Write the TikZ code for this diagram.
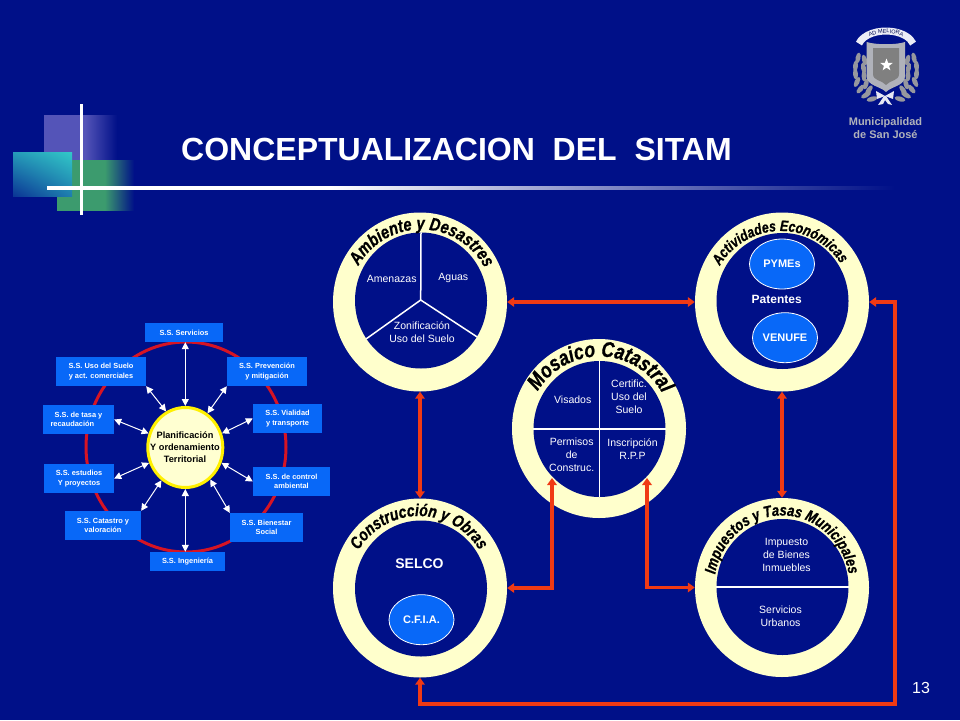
\documentclass[tikz,border=0pt]{standalone}
\usepackage{fontspec}
\setmainfont{Liberation Sans}
\newfontfamily\arcfont[UprightFont=* Bold Italic,FakeBold=0.8,FakeStretch=0.82]{Liberation Sans}
\usetikzlibrary{shapes.geometric,arrows.meta,decorations.text,shadings}
\definecolor{bg}{RGB}{0,16,136}
\definecolor{cream}{RGB}{255,255,204}
\definecolor{bluebox}{RGB}{8,104,248}
\definecolor{redline}{RGB}{240,58,20}
\definecolor{ringred}{RGB}{214,20,36}
\definecolor{logogrey}{RGB}{176,178,186}
\definecolor{purp}{RGB}{84,84,184}
\definecolor{greenb}{RGB}{60,155,110}
\definecolor{tealb}{RGB}{50,200,200}
\definecolor{hubyellow}{RGB}{255,240,0}
\pgfdeclarehorizontalshading{linefade}{100bp}{color(0bp)=(white); color(41.7bp)=(white); color(75bp)=(bg); color(100bp)=(bg)}
\pgfdeclarehorizontalshading{purpfade}{100bp}{color(0bp)=(purp); color(53bp)=(purp); color(75bp)=(bg); color(100bp)=(bg)}
\pgfdeclarehorizontalshading{greenfade}{100bp}{color(0bp)=(greenb); color(56bp)=(greenb); color(75bp)=(bg); color(100bp)=(bg)}
\newcommand{\fs}[2]{\fontsize{#1}{#2}\selectfont}
\newcommand{\arctitle}[8]{\path[decorate,decoration={text along path,text align=center,text={|\arcfont\fs{#7}{#7}|#8}}]
  ({#1+#3*cos(#5)},{#2-#4*sin(#5)}) arc[start angle=#5,end angle=#6,x radius=#3pt,y radius=#4pt];}
\tikzset{
  x=1pt,y=-1pt,
  ringo/.style={ellipse,fill=cream,inner sep=0pt,minimum width=174pt,minimum height=179pt},
  ringi/.style={ellipse,fill=bg,inner sep=0pt,minimum width=132pt,minimum height=136pt},
  divider/.style={white,line width=1.5pt},
  lbl/.style={text=white,inner sep=0pt,align=center,font=\fs{10.5}{13}},
  blbl/.style={text=white,inner sep=0pt,align=center,font=\bfseries\fs{11}{13}},
  oval/.style={ellipse,fill=bluebox,draw=white,line width=0.8pt,inner sep=0pt,minimum width=65pt,minimum height=50pt,text=white,font=\bfseries\fs{11}{13}},
  ssbox/.style={rectangle,fill=bluebox,inner sep=0pt,text=white,align=center,font=\bfseries\fs{7.4}{9.3}},
  redarrow/.style={{Triangle[length=7pt,width=9.5pt]}-{Triangle[length=7pt,width=9.5pt]},redline,line width=3.2pt},
  whitearrow/.style={{Triangle[length=7pt,width=7pt]}-{Triangle[length=7pt,width=7pt]},white,line width=1pt},
  leaf/.style={fill=logogrey!85!black},
}
\newcommand{\ssb}[6]{\node[ssbox,minimum width=#4pt-#2pt,minimum height=#5pt-#3pt] (#1) at ({(#2+#4)/2},{(#3+#5)/2}) {#6};}
\begin{document}
\begin{tikzpicture}
\useasboundingbox (0,0) rectangle (960,720);
\fill[bg] (0,0) rectangle (960,720);

% decoration at top left
\shade[shading=purpfade] (44,115) rectangle (117,160);
\shade[shading=greenfade] (57,160) rectangle (134,210);
\shade[upper right=tealb,upper left=tealb!75!bg,lower right=tealb!60!bg,lower left=bg!80!tealb] (13,152) rectangle (72,196);
\fill[white] (79.7,104) rectangle (82.9,215);
\shade[shading=linefade] (47,186.7) rectangle (895,189.9);

% title
\node[inner sep=0pt,anchor=base west,text=white,font=\bfseries\fs{32}{35}] (title) at (181,160) {CONCEPTUALIZACION\ \ DEL\ \ SITAM};

% logo
\foreach \xx/\yy/\rr in {858/58/-12,855.5/66/-5,855.5/74/5,857/82/-25,860.5/89/-40,866/95/-60,872/99/-75,864.5/60/15,863.5/68/10,864/76/2,866/84/-15,869/90/-35}{
  \fill[leaf,rotate around={\rr:(\xx,\yy)}] (\xx,\yy) ellipse (2.5 and 5.5);
  \fill[leaf,rotate around={-\rr:(1772-\xx,\yy)}] (1772-\xx,\yy) ellipse (2.5 and 5.5);
}
\draw[white!92!bg,line width=7pt] ({886+28*cos(165)},{48-17*sin(165)}) arc[start angle=165,end angle=15,x radius=28pt,y radius=17pt];
\fill[logogrey] (866.5,42) .. controls (876,45) and (896,45) .. (905,42) -- (905,76) .. controls (905,86) and (892,86) .. (886,92) .. controls (880,86) and (867,86) .. (866.5,76) -- cycle;
\fill[black!50] (873,48) -- (899,48) -- (899,74) .. controls (899,81) and (890,80) .. (886,85) .. controls (882,80) and (873,81) .. (873,74) -- cycle;
\node[star,star points=5,star point ratio=2.4,fill=white,minimum size=13pt,inner sep=0pt] (logostar) at (886.5,65) {};
\fill[white!90!bg] (885,96) -- (876,91) -- (877,99) -- cycle;
\fill[white!90!bg] (885,96) -- (894,91) -- (893,99) -- cycle;
\fill[white!90!bg] (884,96) -- (878,105) -- (883,104) -- (885,100) -- (888,104) -- (892,105) -- (886,96) -- cycle;
\path[decorate,decoration={text along path,text align=center,text color=bg!60!black,text={|\fs{5.5}{5.5}|AD MELIORA}}]
  ({886+27*cos(155)},{50-17*sin(155)}) arc[start angle=155,end angle=25,x radius=27pt,y radius=17pt];
\node[inner sep=0pt,align=center,text=logogrey,font=\bfseries\fs{11}{13}] (muni) at (885.5,128) {Municipalidad\\de San José};

% left diagram
\node[ellipse,draw=ringred,line width=3pt,minimum width=200pt,minimum height=210pt,inner sep=0pt] (bigring) at (186,447) {};
\ssb{bserv}{145}{323}{223}{342}{S.S. Servicios}
\ssb{buso}{56}{357}{146}{386}{S.S. Uso del Suelo\\y act. comerciales}
\ssb{bprev}{227}{357}{307}{386}{S.S. Prevención\\y mitigación}
\ssb{btasa}{43}{405}{114}{434}{S.S. de tasa y\\recaudación\phantom{xxx}}
\ssb{bvial}{253}{404}{322}{433}{S.S. Vialidad\\y transporte}
\ssb{bestu}{44}{464}{114}{493}{S.S. estudios\\Y proyectos}
\ssb{bctrl}{253}{467}{330}{496}{S.S. de control\\ambiental}
\ssb{bcata}{65}{511}{141}{540}{S.S. Catastro y\\valoración}
\ssb{bbien}{230}{513}{303}{542}{S.S. Bienestar\\Social}
\ssb{bing}{150}{552}{225}{571}{S.S. Ingeniería}
\node[ellipse,draw=hubyellow,fill=cream!90!white,line width=3pt,minimum width=75pt,minimum height=80pt,inner sep=0pt] (hub) at (185.3,447.5) {};
\node[inner sep=0pt,align=center,text=black,font=\bfseries\fs{9.2}{12}] (hubtext) at (185,447.5) {Planificación\\Y ordenamiento\\Territorial};
\draw[whitearrow] (bserv.south -| hub.north) -- (hub.north);
\draw[whitearrow] (buso.south east) -- (hub.118.6);
\draw[whitearrow] (bprev.south west) -- (hub.57.4);
\draw[whitearrow] (btasa.east) -- (hub.159.4);
\draw[whitearrow] (bvial.west) -- (hub.21.4);
\draw[whitearrow] (bestu.east) -- (hub.203);
\draw[whitearrow] (bctrl.west) -- (hub.-23.6);
\draw[whitearrow] (bcata.north east) -- (hub.234);
\draw[whitearrow] (bbien.north west) -- (hub.-52.4);
\draw[whitearrow] (bing.north -| hub.south) -- (hub.south);

% rings
\node[ringo] (amb) at (420,302) {};
\node[ringi] (ambi) at (421,300.5) {};
\node[ringo] (mos) at (599,428.5) {};
\node[ringi] (mosi) at (599.5,429) {};
\node[ringo] (act) at (782,302) {};
\node[ringi] (acti) at (782.5,301) {};
\node[ringo] (cons) at (420,588) {};
\node[ringi] (consi) at (421,588.5) {};
\node[ringo] (imp) at (782,587.5) {};
\node[ringi] (impi) at (782.5,587) {};

% ring titles
\arctitle{421}{301.5}{72}{72}{165}{13}{18}{Ambiente y Desastres}
\arctitle{599.5}{428.5}{72}{72}{165}{13}{21.5}{Mosaico Catastral}
\arctitle{781}{302}{71}{71}{165}{17}{15}{Actividades Económicas}
\arctitle{419}{588}{71}{72}{165}{15}{17}{Construcción y Obras}
\arctitle{782}{587.5}{68}{72}{172}{8}{15.8}{Impuestos y Tasas Municipales}

% Ambiente contents
\coordinate (ambc) at (420.7,300);
\draw[divider] (ambc) -- (ambi.north);
\draw[divider] (ambc) -- (ambi.215);
\draw[divider] (ambc) -- (ambi.-33);
\node[lbl] (tamen) at (391.7,278.5) {Amenazas};
\node[lbl] (tagua) at (453.3,277.5) {Aguas};
\node[lbl] (tzoni) at (422,332.5) {Zonificación\\Uso del Suelo};

% Mosaico contents
\draw[divider] (mosi.north) -- (mosi.south);
\draw[divider] (mosi.west) -- (mosi.east);
\node[lbl] (tvisa) at (572.7,400) {Visados};
\node[lbl] (tcert) at (629,397) {Certific.\\Uso del\\Suelo};
\node[lbl] (tperm) at (571.7,454.5) {Permisos\\de\\Construc.};
\node[lbl] (tinsc) at (632.5,449.5) {Inscripción\\R.P.P};

% Actividades contents
\node[oval] (pymes) at (782,264) {PYMEs};
\node[oval] (venufe) at (785,337.7) {VENUFE};
\node[blbl,font=\bfseries\fs{12}{13}] (tpat) at (776.7,299.5) {Patentes};

% Construccion contents
\node[blbl,font=\bfseries\fs{14}{16}] (tselco) at (419.5,564) {SELCO};
\node[oval] (cfia) at (421.5,619.7) {C.F.I.A.};

% Impuestos contents
\draw[divider] (impi.west) -- (impi.east);
\node[lbl] (timpu) at (786.5,554.5) {Impuesto\\de Bienes\\Inmuebles};
\node[lbl] (tserv) at (780.5,616) {Servicios\\Urbanos};

% connectors
\coordinate (mosL) at (552,478);
\coordinate (mosR) at (647,478);
\coordinate (elbL) at (552,588);
\coordinate (elbR) at (647,587.5);
\coordinate (cA) at (895,302);
\coordinate (cB) at (895,704);
\coordinate (cC) at (420,704);
\draw[redarrow] (amb.east) -- (act.west);
\draw[redarrow] (amb.south) -- (cons.north);
\draw[redarrow] (act.south) -- (imp.north);
\draw[redarrow] (cons.east) -- (elbL) -- (mosL);
\draw[redarrow] (imp.west) -- (elbR) -- (mosR);
\draw[redarrow] (act.east) -- (cA) -- (cB) -- (cC) -- (cons.south);

\node[text=white,inner sep=0pt,font=\fs{16}{18}] (pageno) at (921,688) {13};
\end{tikzpicture}
\end{document}
